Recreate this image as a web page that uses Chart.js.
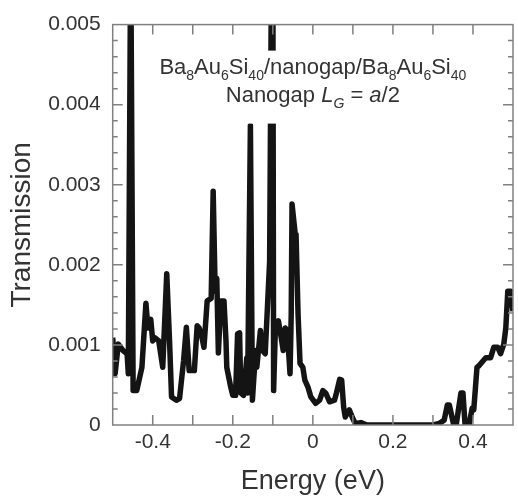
<!DOCTYPE html>
<html>
<head>
<meta charset="utf-8">
<script src="https://cdn.jsdelivr.net/npm/chart.js@4.4.0/dist/chart.umd.min.js"></script>
<style>
  html, body { margin: 0; padding: 0; background: #fff; }
</style>
</head>
<body>
<canvas id="chart" width="518" height="499"></canvas>
<script>
// Energy (eV) and transmission
const energy = [-0.500, -0.494, -0.486, -0.474, -0.464, -0.461, -0.455, -0.449, -0.440, -0.427,
  -0.417, -0.412, -0.405, -0.400, -0.395, -0.385, -0.375, -0.365, -0.358, -0.353,
  -0.341, -0.333, -0.323, -0.316, -0.309, -0.296, -0.289, -0.284, -0.279, -0.272,
  -0.264, -0.254, -0.249, -0.244, -0.240, -0.236, -0.230, -0.222, -0.217, -0.215,
  -0.205, -0.200, -0.193, -0.188, -0.183, -0.180, -0.173, -0.165, -0.163, -0.156,
  -0.151, -0.143, -0.140, -0.131, -0.126, -0.119, -0.108, -0.103, -0.100, -0.098,
  -0.094, -0.086, -0.079, -0.074, -0.069, -0.064, -0.057, -0.054, -0.052, -0.044,
  -0.042, -0.037, -0.032, -0.025, -0.020, -0.012, -0.005, 0.007, 0.017, 0.025,
  0.032, 0.042, 0.054, 0.059, 0.067, 0.072, 0.077, 0.081, 0.091, 0.099,
  0.106, 0.120, 0.135, 0.200, 0.300, 0.316, 0.328, 0.336, 0.341, 0.351,
  0.358, 0.370, 0.375, 0.380, 0.390, 0.398, 0.402, 0.410, 0.415, 0.425,
  0.432, 0.444, 0.452, 0.462, 0.469, 0.477, 0.482, 0.487, 0.494, 0.500];

const transmission = [1.09e-3, 0.64e-3, 1.01e-3, 0.93e-3, 0.89e-3, 0.64e-3, 6.0e-3, 0.43e-3, 0.43e-3, 0.72e-3,
  1.52e-3, 1.21e-3, 1.32e-3, 1.05e-3, 1.09e-3, 1.05e-3, 0.72e-3, 1.89e-3, 1.05e-3, 0.35e-3,
  0.31e-3, 0.33e-3, 0.80e-3, 1.22e-3, 0.68e-3, 0.68e-3, 1.24e-3, 1.21e-3, 1.14e-3, 0.97e-3,
  1.55e-3, 1.58e-3, 2.92e-3, 1.67e-3, 1.83e-3, 0.90e-3, 1.55e-3, 1.55e-3, 1.05e-3, 0.72e-3,
  0.47e-3, 0.37e-3, 0.37e-3, 1.14e-3, 1.15e-3, 0.40e-3, 0.37e-3, 0.84e-3, 0.40e-3, 3.74e-3,
  0.31e-3, 0.93e-3, 0.72e-3, 1.18e-3, 0.93e-3, 0.89e-3, 2.04e-3, 6.0e-3, 6.0e-3, 0.43e-3,
  1.14e-3, 1.30e-3, 1.09e-3, 0.93e-3, 1.21e-3, 1.18e-3, 0.64e-3, 1.39e-3, 2.76e-3, 2.38e-3,
  2.38e-3, 1.39e-3, 0.77e-3, 0.72e-3, 0.56e-3, 0.47e-3, 0.35e-3, 0.27e-3, 0.31e-3, 0.43e-3,
  0.40e-3, 0.29e-3, 0.31e-3, 0.40e-3, 0.57e-3, 0.56e-3, 0.22e-3, 0.10e-3, 0.19e-3, 0.09e-3,
  0.02e-3, 0.03e-3, 0, 0, 0, 0.02e-3, 0.06e-3, 0.25e-3, 0.25e-3, 0.02e-3,
  0, 0.40e-3, 0.40e-3, 0.02e-3, 0, 0.21e-3, 0.19e-3, 0.72e-3, 0.74e-3, 0.80e-3,
  0.84e-3, 0.84e-3, 0.97e-3, 0.97e-3, 0.89e-3, 1.01e-3, 1.21e-3, 1.67e-3, 1.67e-3, 1.42e-3];

// labelled ticks
const xTickLabels = [-0.4, -0.2, 0, 0.2, 0.4];
const yTickLabels = [0, 0.001, 0.002, 0.003, 0.004, 0.005];

const textColor = '#333';
const frameColor = '#808080';
const FONT = '"Liberation Sans", Arial, sans-serif';

function isLabelled(list, v) {
  return list.some(t => Math.abs(t - v) < 1e-9);
}

// frame, inward ticks and the legend text box
const frameTicks = {
  id: 'frameTicks',
  afterDatasetsDraw(chart) {
    const { ctx, chartArea: a, scales: { x, y } } = chart;
    ctx.save();

    // white box behind the annotation (hides the spike behind it)
    ctx.fillStyle = '#fff';
    ctx.fillRect(a.left + 40, a.top + 26, a.width - 82, 73);

    ctx.fillStyle = textColor;
    ctx.textBaseline = 'alphabetic';
    drawRuns(ctx, [
      ['Ba'], ['8', 'sub'], ['Au'], ['6', 'sub'], ['Si'], ['40', 'sub'],
      ['/nanogap/'],
      ['Ba'], ['8', 'sub'], ['Au'], ['6', 'sub'], ['Si'], ['40', 'sub']
    ], x.getPixelForValue(0), a.top + 49, 22);
    drawRuns(ctx, [
      ['Nanogap '], ['L', 'it'], ['G', 'itsub'], [' = '], ['a', 'it'], ['/2']
    ], x.getPixelForValue(0), a.top + 77, 22);

    // frame
    ctx.strokeStyle = frameColor;
    ctx.lineWidth = 1.5;
    ctx.strokeRect(a.left, a.top, a.right - a.left, a.bottom - a.top);

    // ticks pointing inward on all four sides
    ctx.beginPath();
    x.ticks.forEach(t => {
      if (t.value <= x.min + 1e-9 || t.value >= x.max - 1e-9) return;
      const px = x.getPixelForValue(t.value);
      ctx.moveTo(px, a.bottom); ctx.lineTo(px, a.bottom - 10);
      ctx.moveTo(px, a.top); ctx.lineTo(px, a.top + 10);
    });
    y.ticks.forEach(t => {
      if (t.value <= y.min + 1e-12 || t.value >= y.max - 1e-12) return;
      const py = y.getPixelForValue(t.value);
      const len = isLabelled(yTickLabels, t.value) ? 10 : 5;
      ctx.moveTo(a.left, py); ctx.lineTo(a.left + len, py);
      ctx.moveTo(a.right, py); ctx.lineTo(a.right - len, py);
    });
    ctx.stroke();
    ctx.restore();
  }
};

function runFont(kind, size) {
  const s = kind && kind.includes('sub') ? Math.round(size * 0.65) : size;
  const it = kind && kind.includes('it') ? 'italic ' : '';
  return it + s + 'px ' + FONT;
}

function drawRuns(ctx, runs, cx, baseline, size) {
  let total = 0;
  runs.forEach(r => { ctx.font = runFont(r[1], size); total += ctx.measureText(r[0]).width; });
  let xPos = cx - total / 2;
  runs.forEach(r => {
    ctx.font = runFont(r[1], size);
    const dy = r[1] && r[1].includes('sub') ? size * 0.3 : 0;
    ctx.fillText(r[0], xPos, baseline + dy);
    xPos += ctx.measureText(r[0]).width;
  });
}

const points = energy.map((e, i) => ({ x: e, y: transmission[i] }));

new Chart(document.getElementById('chart'), {
  type: 'line',
  data: {
    datasets: [{
      data: points,
      borderColor: '#141414',
      borderWidth: 5.5,
      borderJoinStyle: 'round',
      pointRadius: 0,
      tension: 0,
      clip: 0
    }]
  },
  options: {
    responsive: false,
    animation: false,
    layout: { padding: { top: 21, right: 1.5, left: 0, bottom: 0 } },
    plugins: { legend: { display: false }, tooltip: { enabled: false } },
    scales: {
      x: {
        type: 'linear',
        min: -0.5,
        max: 0.5,
        afterFit: s => { s.height = 74; },
        grid: { display: false, drawTicks: false },
        border: { display: false },
        ticks: {
          stepSize: 0.1,
          autoSkip: false,
          maxRotation: 0,
          padding: 5,
          color: textColor,
          font: { family: FONT, size: 21 },
          callback: v => isLabelled(xTickLabels, v) ? (Math.abs(v) < 1e-9 ? '0' : v.toFixed(1)) : ''
        },
        title: {
          display: true,
          text: 'Energy (eV)',
          color: textColor,
          font: { family: FONT, size: 27 },
          padding: { top: 0, bottom: 1 }
        }
      },
      y: {
        min: 0,
        max: 0.005,
        afterFit: s => { s.width = 112.7; },
        grid: { display: false, drawTicks: false },
        border: { display: false },
        ticks: {
          stepSize: 0.0002,
          autoSkip: false,
          padding: 12,
          color: textColor,
          font: { family: FONT, size: 21 },
          callback: v => isLabelled(yTickLabels, v) ? (v === 0 ? '0' : v.toFixed(3)) : ''
        },
        title: {
          display: true,
          text: 'Transmission',
          color: textColor,
          font: { family: FONT, size: 28 },
          padding: { top: 5, bottom: 0 }
        }
      }
    }
  },
  plugins: [frameTicks]
});
</script>
</body>
</html>
